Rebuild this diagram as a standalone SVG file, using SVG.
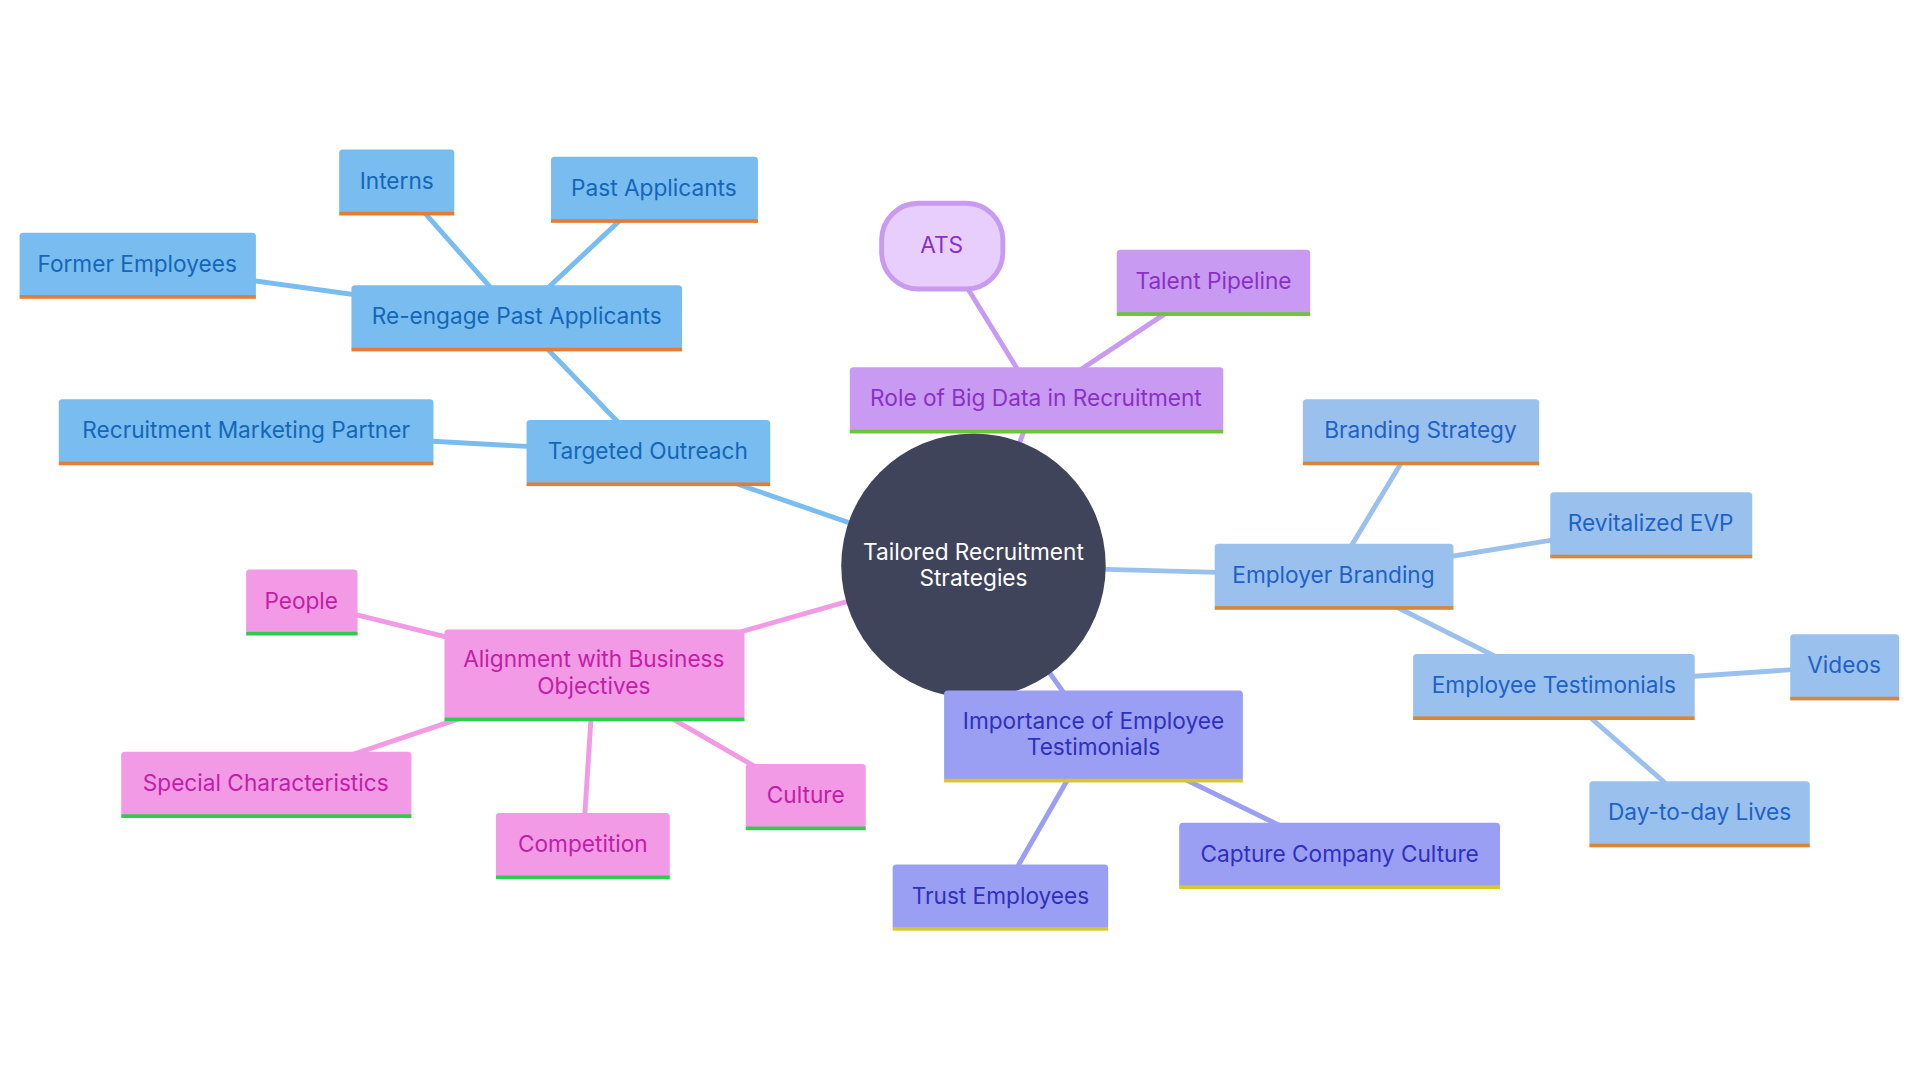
<svg xmlns="http://www.w3.org/2000/svg" width="1920" height="1080" viewBox="0 0 1920 1080">
<style>
text{font-family:Inter,"Open Sans",sans-serif;font-size:18.5px;text-anchor:middle;dominant-baseline:central}
.b rect.f{fill:#79bdf0}.b text{fill:#1566b8}.b .u{fill:#e37d35}
.p rect.f{fill:#c99af2}.p text{fill:#8a30c9}.p .u{fill:#6cc43a}
.e rect.f{fill:#9ac1ee}.e text{fill:#1e62c6}.e .u{fill:#d6873a}
.i rect.f{fill:#9b9ff3}.i text{fill:#2f2fc0}.i .u{fill:#d4c82b}
.k rect.f{fill:#f29ae5}.k text{fill:#c21ea7}.k .u{fill:#2ecc48}
#edges line{stroke-width:4;stroke-linecap:round}
</style>
<rect width="1920" height="1080" fill="#fff"/>
<g transform="scale(1.2245)">
<g id="edges">
<line x1="795" y1="462" x2="529" y2="370" stroke="#79bdf0"/>
<line x1="529" y1="370" x2="201" y2="352" stroke="#79bdf0"/>
<line x1="529" y1="370" x2="422" y2="259" stroke="#79bdf0"/>
<line x1="422" y1="259" x2="112" y2="216" stroke="#79bdf0"/>
<line x1="422" y1="259" x2="324" y2="148" stroke="#79bdf0"/>
<line x1="422" y1="259" x2="534" y2="154" stroke="#79bdf0"/>
<line x1="795" y1="462" x2="846" y2="326" stroke="#c99af2"/>
<line x1="846" y1="326" x2="769" y2="201" stroke="#c99af2"/>
<line x1="846" y1="326" x2="991" y2="230" stroke="#c99af2"/>
<line x1="795" y1="462" x2="1089" y2="470" stroke="#9ac1ee"/>
<line x1="1089" y1="470" x2="1160" y2="352" stroke="#9ac1ee"/>
<line x1="1089" y1="470" x2="1348" y2="428" stroke="#9ac1ee"/>
<line x1="1089" y1="470" x2="1269" y2="560" stroke="#9ac1ee"/>
<line x1="1269" y1="560" x2="1506" y2="544" stroke="#9ac1ee"/>
<line x1="1269" y1="560" x2="1388" y2="664" stroke="#9ac1ee"/>
<line x1="795" y1="462" x2="893" y2="600" stroke="#9b9ff3"/>
<line x1="893" y1="600" x2="1094" y2="698" stroke="#9b9ff3"/>
<line x1="893" y1="600" x2="817" y2="732" stroke="#9b9ff3"/>
<line x1="795" y1="462" x2="485" y2="550" stroke="#f29ae5"/>
<line x1="485" y1="550" x2="246" y2="491" stroke="#f29ae5"/>
<line x1="485" y1="550" x2="217" y2="640" stroke="#f29ae5"/>
<line x1="485" y1="550" x2="476" y2="690" stroke="#f29ae5"/>
<line x1="485" y1="550" x2="658" y2="650" stroke="#f29ae5"/>
</g>
<g id="center"><circle cx="795" cy="462" r="108" fill="#40445a"/><text x="795" y="450" fill="#fff">Tailored Recruitment</text><text x="795" y="472" fill="#fff">Strategies</text></g>
<g id="targeted" class="b"><rect class="f" x="430" y="343" width="199" height="53" rx="3"/><rect class="u" x="430" y="394" width="199" height="3"/><text x="529" y="368">Targeted Outreach</text></g>
<g id="rmp" class="b"><rect class="f" x="48" y="326" width="306" height="53" rx="3"/><rect class="u" x="48" y="377" width="306" height="3"/><text x="201" y="351">Recruitment Marketing Partner</text></g>
<g id="reengage" class="b"><rect class="f" x="287" y="233" width="270" height="53" rx="3"/><rect class="u" x="287" y="284" width="270" height="3"/><text x="422" y="258">Re-engage Past Applicants</text></g>
<g id="former" class="b"><rect class="f" x="16" y="190" width="193" height="53" rx="3"/><rect class="u" x="16" y="241" width="193" height="3"/><text x="112" y="215">Former Employees</text></g>
<g id="interns" class="b"><rect class="f" x="277" y="122" width="94" height="53" rx="3"/><rect class="u" x="277" y="173" width="94" height="3"/><text x="324" y="147">Interns</text></g>
<g id="past" class="b"><rect class="f" x="450" y="128" width="169" height="53" rx="3"/><rect class="u" x="450" y="179" width="169" height="3"/><text x="534" y="153">Past Applicants</text></g>
<g id="bigdata" class="p"><rect class="f" x="694" y="300" width="305" height="53" rx="3"/><rect class="u" x="694" y="351" width="305" height="3"/><text x="846" y="325">Role of Big Data in Recruitment</text></g>
<g id="ats" class="p"><rect x="720" y="166" width="99" height="70" rx="30" fill="#e7cefc" stroke="#c99af2" stroke-width="4"/><text x="769" y="200">ATS</text></g>
<g id="pipeline" class="p"><rect class="f" x="912" y="204" width="158" height="53" rx="3"/><rect class="u" x="912" y="255" width="158" height="3"/><text x="991" y="229">Talent Pipeline</text></g>
<g id="employer" class="e"><rect class="f" x="992" y="444" width="195" height="53" rx="3"/><rect class="u" x="992" y="495" width="195" height="3"/><text x="1089" y="469">Employer Branding</text></g>
<g id="brandstrat" class="e"><rect class="f" x="1064" y="326" width="193" height="53" rx="3"/><rect class="u" x="1064" y="377" width="193" height="3"/><text x="1160" y="351">Branding Strategy</text></g>
<g id="evp" class="e"><rect class="f" x="1266" y="402" width="165" height="53" rx="3"/><rect class="u" x="1266" y="453" width="165" height="3"/><text x="1348" y="427">Revitalized EVP</text></g>
<g id="emptest" class="e"><rect class="f" x="1154" y="534" width="230" height="53" rx="3"/><rect class="u" x="1154" y="585" width="230" height="3"/><text x="1269" y="559">Employee Testimonials</text></g>
<g id="videos" class="e"><rect class="f" x="1462" y="518" width="89" height="53" rx="3"/><rect class="u" x="1462" y="569" width="89" height="3"/><text x="1506" y="543">Videos</text></g>
<g id="daytoday" class="e"><rect class="f" x="1298" y="638" width="180" height="53" rx="3"/><rect class="u" x="1298" y="689" width="180" height="3"/><text x="1388" y="663">Day-to-day Lives</text></g>
<g id="importance" class="i"><rect class="f" x="771" y="564" width="244" height="74" rx="3"/><rect class="u" x="771" y="636" width="244" height="3"/><text x="893" y="588">Importance of Employee</text><text x="893" y="610">Testimonials</text></g>
<g id="capture" class="i"><rect class="f" x="963" y="672" width="262" height="53" rx="3"/><rect class="u" x="963" y="723" width="262" height="3"/><text x="1094" y="697">Capture Company Culture</text></g>
<g id="trust" class="i"><rect class="f" x="729" y="706" width="176" height="53" rx="3"/><rect class="u" x="729" y="757" width="176" height="3"/><text x="817" y="731">Trust Employees</text></g>
<g id="alignment" class="k"><rect class="f" x="363" y="514" width="245" height="74" rx="3"/><rect class="u" x="363" y="586" width="245" height="3"/><text x="485" y="538">Alignment with Business</text><text x="485" y="560">Objectives</text></g>
<g id="people" class="k"><rect class="f" x="201" y="465" width="91" height="53" rx="3"/><rect class="u" x="201" y="516" width="91" height="3"/><text x="246" y="490">People</text></g>
<g id="special" class="k"><rect class="f" x="99" y="614" width="237" height="53" rx="3"/><rect class="u" x="99" y="665" width="237" height="3"/><text x="217" y="639">Special Characteristics</text></g>
<g id="competition" class="k"><rect class="f" x="405" y="664" width="142" height="53" rx="3"/><rect class="u" x="405" y="715" width="142" height="3"/><text x="476" y="689">Competition</text></g>
<g id="culture" class="k"><rect class="f" x="609" y="624" width="98" height="53" rx="3"/><rect class="u" x="609" y="675" width="98" height="3"/><text x="658" y="649">Culture</text></g>
</g>
</svg>
